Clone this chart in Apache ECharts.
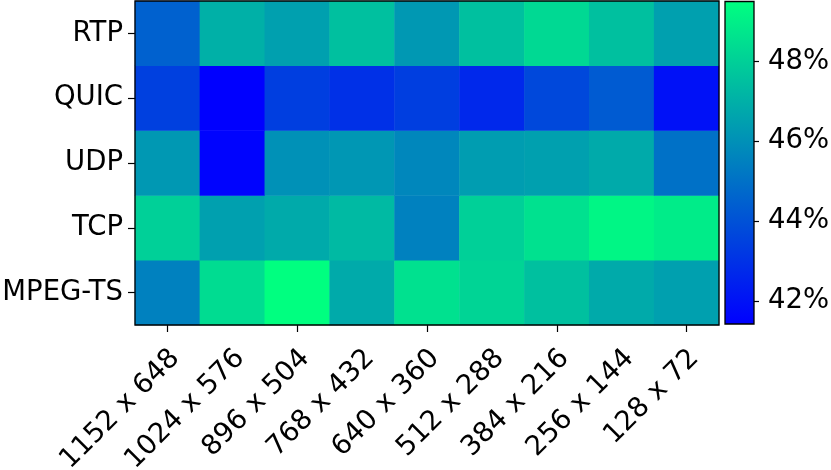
<!DOCTYPE html>
<html><head><meta charset="utf-8">
<script src="https://cdn.jsdelivr.net/npm/echarts@6/dist/echarts.min.js"></script>
<style>html,body{margin:0;padding:0;background:#fff}#c{width:831px;height:470px}</style>
</head><body><div id="c"></div>
<script>
const resolutions = ['1152 x 648','1024 x 576','896 x 504','768 x 432','640 x 360','512 x 288','384 x 216','256 x 144','128 x 72'];
const protocols = ['MPEG-TS','TCP','UDP','QUIC','RTP']; // bottom to top
const RTP     = [44.5, 47.0, 46.5, 47.5, 46.25, 47.5, 48.3, 47.5, 46.5];
const QUIC    = [43.45, 41.42, 43.4, 42.95, 43.4, 42.7, 43.7, 44.3, 41.95];
const UDP     = [46.25, 41.5, 46.0, 46.2, 45.7, 46.4, 46.5, 46.8, 45.0];
const TCP     = [48.0, 46.5, 46.8, 47.3, 45.5, 48.0, 48.55, 49.2, 48.9];
const MPEGTS  = [45.5, 48.4, 49.5, 46.8, 48.55, 48.15, 47.5, 46.8, 46.5];
const colorbarTicks = [42, 44, 46, 48];
const vmin = 41.42, vmax = 49.5;

const rows = {'MPEG-TS': MPEGTS, 'TCP': TCP, 'UDP': UDP, 'QUIC': QUIC, 'RTP': RTP};
const data = [];
protocols.forEach((p, yi) => rows[p].forEach((v, xi) => data.push([xi, yi, v])));

const FONT = 'DejaVu Sans';
const FS = 27.5;
const chart = echarts.init(document.getElementById('c'), null, {renderer: 'canvas'});
chart.setOption({
  animation: false,
  textStyle: {fontFamily: FONT},
  grid: [
    {left: 135, top: 1, width: 584, height: 324, show: true, z: 10, borderColor: '#000', borderWidth: 1.3, backgroundColor: 'transparent', containLabel: false, outerBoundsMode: 'none'},
    {left: 725, top: 1.5, width: 29, height: 322.5, show: true, z: 10, borderColor: '#000', borderWidth: 1.3, backgroundColor: 'transparent', containLabel: false, outerBoundsMode: 'none'},
    {left: 143, top: 1, width: 584, height: 324, show: false, containLabel: false, outerBoundsMode: 'none'}
  ],
  xAxis: [
    {type: 'category', gridIndex: 0, data: resolutions, splitArea: {show: false},
     axisLine: {show: false}, axisTick: {show: true, alignWithLabel: true, inside: false, length: 7, lineStyle: {color: '#000', width: 1.2}},
     axisLabel: {show: false}},
    {type: 'category', gridIndex: 1, data: ['c'], show: false},
    {type: 'category', gridIndex: 2, data: resolutions, axisLine: {show: false}, axisTick: {show: false}, splitLine: {show: false},
     axisLabel: {rotate: 45, fontSize: FS, color: '#000', margin: 29, fontFamily: FONT, interval: 0}}
  ],
  yAxis: [
    {type: 'category', gridIndex: 0, data: protocols, splitArea: {show: false},
     axisLine: {show: false}, axisTick: {show: true, alignWithLabel: true, length: 7, lineStyle: {color: '#000', width: 1.2}},
     axisLabel: {fontSize: FS, color: '#000', margin: 12, fontFamily: FONT}},
    {type: 'value', gridIndex: 1, position: 'right', min: vmin, max: vmax, splitLine: {show: false},
     axisLine: {show: false},
     axisTick: {show: true, length: 5, customValues: colorbarTicks, lineStyle: {color: '#000', width: 1.2}},
     axisLabel: {fontSize: FS, color: '#000', margin: 14, fontFamily: FONT, customValues: colorbarTicks, formatter: v => v + '%'}},
    {type: 'category', gridIndex: 2, data: protocols, show: false}
  ],
  visualMap: {show: false, min: vmin, max: vmax, seriesIndex: 0, dimension: 2,
    inRange: {color: ['#0000ff', '#00ff80']}},
  series: [
    {type: 'heatmap', xAxisIndex: 0, yAxisIndex: 0, data: data, itemStyle: {borderWidth: 0}, emphasis: {disabled: true}},
    {type: 'custom', xAxisIndex: 1, yAxisIndex: 1, data: [[0, vmin, vmax]], silent: true,
     renderItem: function (params, api) {
       const p0 = api.coord([0, api.value(1)]);
       const p1 = api.coord([0, api.value(2)]);
       const w = api.size([1, 0])[0];
       return {type: 'rect', shape: {x: p0[0] - w / 2, y: p1[1], width: w, height: p0[1] - p1[1]},
         style: {fill: new echarts.graphic.LinearGradient(0, 1, 0, 0, [{offset: 0, color: '#0000ff'}, {offset: 1, color: '#00ff80'}])}};
     }}
  ]
});
</script></body></html>
